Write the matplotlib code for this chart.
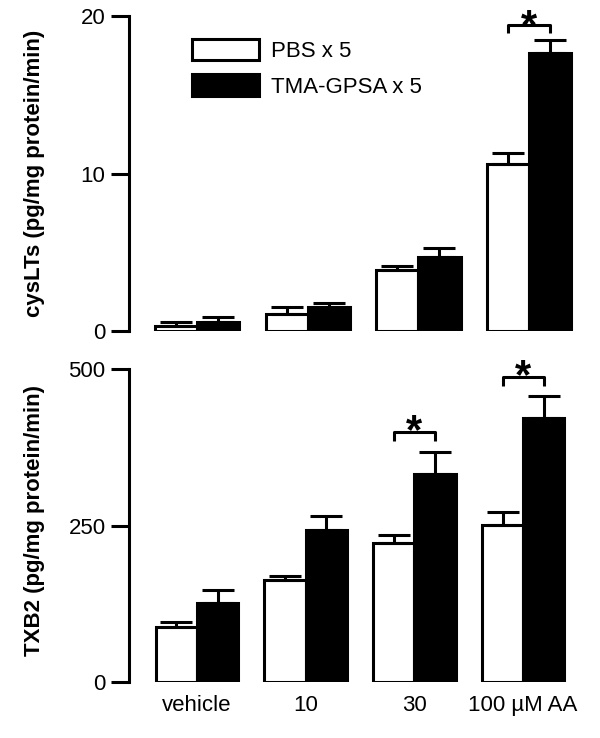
import numpy as np
import matplotlib
matplotlib.use("Agg")
import matplotlib.pyplot as plt

plt.rcParams["font.family"] = ["Liberation Sans", "DejaVu Sans"]

groups = ["vehicle", "10", "30", "100 µM AA"]
series = ["PBS x 5", "TMA-GPSA x 5"]

# cysLTs (pg/mg protein/min)
cys_pbs = [0.3, 1.1, 3.85, 10.6]
cys_pbs_sem = [0.3, 0.4, 0.25, 0.7]
cys_tma = [0.6, 1.5, 4.7, 17.65]
cys_tma_sem = [0.3, 0.25, 0.55, 0.85]

# TXB2 (pg/mg protein/min)
txb_pbs = [89, 163, 222, 251]
txb_pbs_sem = [7, 7, 13, 21]
txb_tma = [126, 243, 333, 421]
txb_tma_sem = [21, 23, 35, 36]

# significance marks: (group index, bracket top, star centre)
cys_sig = [(3, 19.43, 19.84)]
txb_sig = [(2, 400, 413.8), (3, 487.7, 501)]

LW = 2.2
W = 0.38
STAR_SIZE = 30


def draw_panel(ax, pbs, pbs_sem, tma, tma_sem, sig, leg_drop, ymax, yticks):
    x = np.arange(len(groups))
    b1 = ax.bar(x - W / 2, pbs, W, color="white", edgecolor="black",
                linewidth=LW, label=series[0], zorder=2)
    b2 = ax.bar(x + W / 2, tma, W, color="black", edgecolor="black",
                linewidth=LW, label=series[1], zorder=2)
    for xs, v, s in ((x - W / 2, pbs, pbs_sem), (x + W / 2, tma, tma_sem)):
        ax.errorbar(xs, v, yerr=[np.zeros(len(s)), s], fmt="none",
                    ecolor="black", elinewidth=LW, capsize=11.5,
                    capthick=LW, zorder=3)
    for i, top, star in sig:
        x1, x2 = i - W / 2, i + W / 2
        ax.plot([x1, x1, x2, x2], [top - leg_drop, top, top, top - leg_drop],
                color="black", lw=LW, clip_on=False, solid_capstyle="butt")
        # shift baseline down so the asterisk ink is centred on `star`
        ax.annotate("*", xy=(i, star), xytext=(0, -0.48 * STAR_SIZE),
                    textcoords="offset points", ha="center", va="baseline",
                    fontsize=STAR_SIZE, fontweight="bold",
                    annotation_clip=False)
    ax.set_ylim(0, ymax)
    ax.set_yticks(yticks)
    for side in ("top", "right", "bottom"):
        ax.spines[side].set_visible(False)
    ax.spines["left"].set_linewidth(LW)
    ax.tick_params(axis="y", length=13, width=LW, pad=3.5, labelsize=16)
    return b1, b2


fig = plt.figure(figsize=(6, 7.38), dpi=100)
ax1 = fig.add_axes([0.2142, 0.5515, 0.7692, 0.4268])
ax2 = fig.add_axes([0.2142, 0.0755, 0.7692, 0.4245])

b1, b2 = draw_panel(ax1, cys_pbs, cys_pbs_sem, cys_tma, cys_tma_sem,
                    cys_sig, 0.51, 20, [0, 10, 20])
ax1.set_xlim(-0.619, 3.55)
ax1.set_xticks([])

draw_panel(ax2, txb_pbs, txb_pbs_sem, txb_tma, txb_tma_sem,
           txb_sig, 15, 500, [0, 250, 500])
ax2.set_xlim(-0.63, 3.615)
ax2.set_xticks(np.arange(len(groups)))
ax2.set_xticklabels(groups)
ax2.tick_params(axis="x", length=0, pad=9, labelsize=16)

ax1.legend(handles=[b1, b2], loc="upper left", bbox_to_anchor=(0.1376, 0.927),
           frameon=False, fontsize=16, borderpad=0, borderaxespad=0,
           handlelength=3.0, handleheight=1.1, handletextpad=0.55,
           labelspacing=0.55)

fig.text(35 / 600, 0.765, "cysLTs (pg/mg protein/min)", rotation=90,
         ha="center", va="center", fontsize=16, fontweight="bold")
fig.text(35 / 600, 0.2947, "TXB2 (pg/mg protein/min)", rotation=90,
         ha="center", va="center", fontsize=16, fontweight="bold")

fig.savefig("out.png", dpi=100)
